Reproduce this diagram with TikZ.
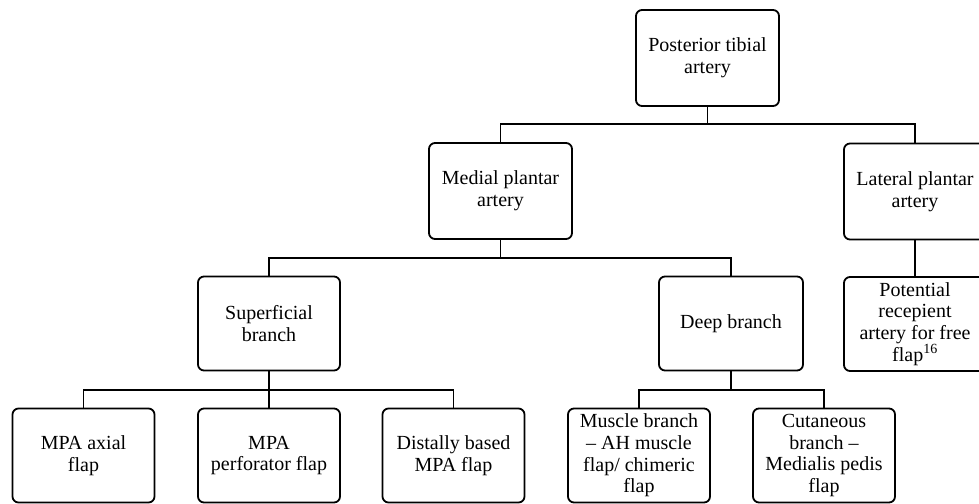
\documentclass[tikz,border=0pt]{standalone}
\usepackage{fontspec}
\setmainfont{Liberation Serif}
\begin{document}
\begin{tikzpicture}[x=1pt,y=-1pt,
  box/.style={draw, line width=1.8pt, rounded corners=6pt, minimum width=142pt, minimum height=94pt,
    align=center, inner sep=2pt, font=\fontsize{20}{21.7}\selectfont},
  conn/.style={line width=1.8pt}]
\useasboundingbox (0,0) rectangle (979,503);
\node[box, minimum width=143pt, minimum height=96pt] (pta) at (707.5,58) {Posterior tibial\\artery};
\node[box, minimum width=143pt, minimum height=96pt] (mpa) at (500.5,191) {Medial plantar\\artery};
\node[box, minimum height=96pt] (lpa) at (915,191.5) {Lateral plantar\\artery};
\node[box] (sup) at (269,323.5) {Superficial\\branch};
\node[box, minimum width=144pt] (deep) at (731,323.5) {Deep branch};
\node[box] (pot) at (915,324) {Potential\\recepient\\artery for free\\flap\textsuperscript{16}};
\node[box] (axial) at (83.5,455.5) {MPA axial\\flap};
\node[box] (perf) at (269,455.5) {MPA\\perforator flap};
\node[box] (dist) at (453.5,455.5) {Distally based\\MPA flap};
\node[box] (musc) at (639,455.5) {Muscle branch\\– AH muscle\\flap/ chimeric\\flap};
\node[box] (cut) at (824,455.5) {Cutaneous\\branch –\\Medialis pedis\\flap};
\coordinate (b1) at (0,124);
\coordinate (b2) at (0,258);
\coordinate (b3) at (0,390);
\draw[conn] (pta.south) -- (pta.south |- b1) -| (mpa.north);
\draw[conn] (pta.south |- b1) -| (lpa.north);
\draw[conn] (lpa.south) -- (pot.north);
\draw[conn] (mpa.south) -- (mpa.south |- b2) -| (sup.north);
\draw[conn] (mpa.south |- b2) -| (deep.north);
\draw[conn] (sup.south) -- (sup.south |- b3) -| (axial.north);
\draw[conn] (sup.south |- b3) -| (dist.north);
\draw[conn] (sup.south) -- (perf.north);
\draw[conn] (deep.south) -- (deep.south |- b3) -| (musc.north);
\draw[conn] (deep.south |- b3) -| (cut.north);
\end{tikzpicture}
\end{document}
